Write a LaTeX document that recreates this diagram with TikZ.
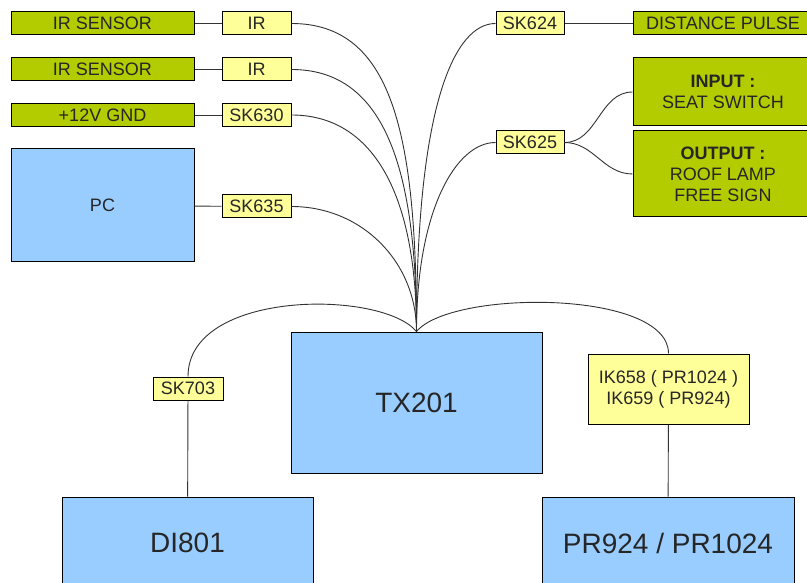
\documentclass[tikz,border=0pt]{standalone}
\usepackage{fontspec}
\setmainfont{Liberation Sans}
\usepackage{tikz}
\usetikzlibrary{positioning}

\definecolor{devblue}{RGB}{153,204,255}
\definecolor{periphgreen}{RGB}{178,204,0}
\definecolor{connyellow}{RGB}{255,255,153}
\definecolor{wiregray}{RGB}{50,50,50}

\begin{document}
\begin{tikzpicture}[x=1pt,y=-1pt,
    box/.style={draw=black,line width=1pt,inner sep=0pt,align=center,
      text=black!85,font=\fontsize{18}{21}\selectfont},
    periph/.style={box,fill=periphgreen},
    conn/.style={box,fill=connyellow,minimum width=69pt,minimum height=23pt},
    dev/.style={box,fill=devblue},
    big/.style={font=\fontsize{28}{32}\selectfont},
    wire/.style={draw=wiregray,line width=0.9pt}]
            \useasboundingbox (0,0) rectangle (807,583);
            \clip (0,0) rectangle (807,583);
            % left side
            \node[periph,minimum width=183pt,minimum height=23pt] (sens1) at (102.5,23.5) {IR SENSOR};
            \node[periph,minimum width=183pt,minimum height=23pt] (sens2) at (102.5,69.5) {IR SENSOR};
            \node[periph,minimum width=183pt,minimum height=23pt] (power) at (102.5,115) {+12V GND};
            \node[dev,minimum width=183pt,minimum height=113pt] (pc) at (102.5,205.5) {PC};
            \node[conn] (ir1) at (256.5,23.5) {IR};
            \node[conn] (ir2) at (256.5,69.5) {IR};
            \node[conn] (sk630) at (256.5,115) {SK630};
            \node[conn] (sk635) at (256.5,206.5) {SK635};
            % right side
            \node[conn,minimum width=68pt] (sk624) at (530,23.5) {SK624};
            \node[conn,minimum width=68pt] (sk625) at (530,142.5) {SK625};
            \node[periph,minimum width=180pt,minimum height=23pt] (pulse) at (723,23.5) {DISTANCE PULSE};
            \node[periph,minimum width=180pt,minimum height=68pt] (input) at (723,92) {\textbf{INPUT :}\\SEAT SWITCH};
            \node[periph,minimum width=180pt,minimum height=86pt] (output) at (723,174) {\textbf{OUTPUT :}\\ROOF LAMP\\FREE SIGN};
            % bottom
            \node[dev,big,minimum width=251pt,minimum height=141pt] (tx) at (416.5,402.5) {TX201};
            \node[conn,minimum width=70pt] (sk703) at (188,388.5) {SK703};
            \node[conn,minimum width=161pt,minimum height=70pt] (ik) at (668.5,389) {IK658 ( PR1024 )\\IK659 ( PR924)};
            \node[dev,big,minimum width=251pt,minimum height=92pt] (di) at (187.5,543) {DI801};
            \node[dev,big,minimum width=252pt,minimum height=92pt] (pr) at (668,543) {PR924 / PR1024};
            \coordinate (hub) at (tx.north);

            \draw[wire] (sens1) -- (ir1);
            \draw[wire] (sens2) -- (ir2);
            \draw[wire] (power) -- (sk630);
            \draw[wire] (pc) -- (sk635);
            \draw[wire] (sk624) -- (pulse);
            \draw[wire] (ir1.east) .. controls +(100,0) and +(0,-200) .. (hub);
            \draw[wire] (ir2.east) .. controls +(90,0) and +(0,-170) .. (hub);
            \draw[wire] (sk630.east) .. controls +(80,0) and +(0,-140) .. (hub);
            \draw[wire] (sk635.east) .. controls +(70,0) and +(0,-70) .. (hub);
            \draw[wire] (sk624.west) .. controls +(-40,0) and +(0,-230) .. (hub);
            \draw[wire] (sk625.west) .. controls +(-40,0) and +(0,-120) .. (hub);
            \draw[wire] (sk625.east) to[out=0,in=180] (input.west);
            \draw[wire] (sk625.east) to[out=0,in=180] (output.west);
            \draw[wire] (hub) .. controls +(-35,-42) and +(0,-87) .. (sk703.north);
            \draw[wire] (hub) .. controls +(35,-42) and +(0,-64) .. (ik.north);
            \draw[wire] (sk703) -- (di);
            \draw[wire] (ik) -- (pr);
        \end{tikzpicture}
\end{document}
